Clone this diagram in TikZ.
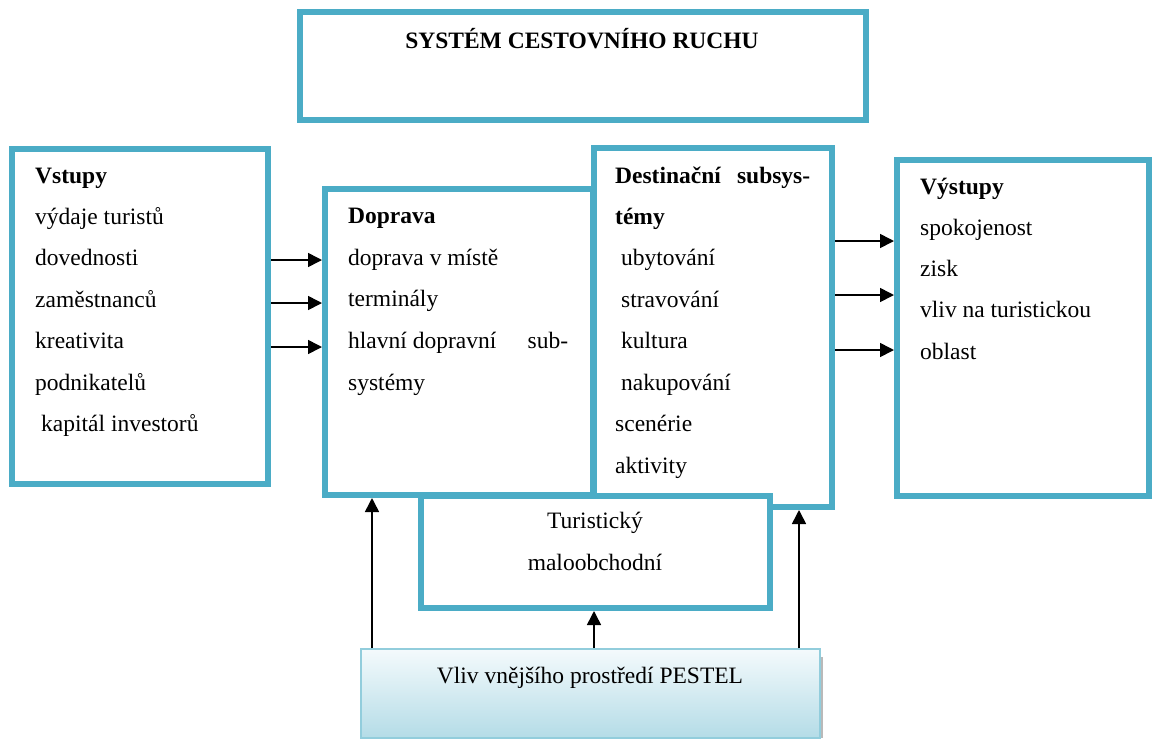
\documentclass[tikz,border=0pt]{standalone}
\usepackage{fontspec}
\setmainfont{Liberation Serif}
\usetikzlibrary{arrows.meta}
\definecolor{boxcol}{RGB}{75,172,198}
\definecolor{pestline}{RGB}{146,205,220}
\definecolor{pesttop}{RGB}{244,250,252}
\definecolor{pestbot}{RGB}{180,220,231}
\tikzset{
  box/.style={draw=boxcol, line width=6pt, fill=white, inner sep=0pt, rectangle},
  lbl/.style={anchor=base west, inner sep=0pt, font=\fontsize{23.5}{28}\selectfont},
  clbl/.style={anchor=base, inner sep=0pt, font=\fontsize{23.5}{28}\selectfont},
  arr/.style={line width=1.6pt, -{Triangle[length=14pt,width=14pt]}}
}
\begin{document}
\begin{tikzpicture}[x=1pt,y=-1pt]
\useasboundingbox (0,0) rectangle (1152,740);
\fill[white] (0,0) rectangle (1152,740);
% boxes
\node[box, minimum width=566pt, minimum height=108pt] (title) at (583,66) {};
\node[box, minimum width=256pt, minimum height=335pt] (vstupy) at (140,316) {};
\node[box, minimum width=252pt, minimum height=336pt] (vystupy) at (1023,328) {};
\node[box, minimum width=268pt, minimum height=306.5pt] (doprava) at (459,341.75) {};
\node[box, minimum width=238pt, minimum height=359pt] (dest) at (713,327.5) {};
\node[box, minimum width=349pt, minimum height=112pt] (turist) at (595.5,552) {};
\fill[gray!55] (820,657) rectangle (823,738);
\node[draw=pestline, line width=2pt, inner sep=0pt, top color=pesttop, bottom color=pestbot,
      minimum width=459pt, minimum height=89pt] (pestel) at (590.5,693.5) {};
% title text
\node[clbl, font=\fontsize{23.5}{28}\selectfont\bfseries] (titletext) at (582,48) {SYSTÉM CESTOVNÍHO RUCHU};
% Vstupy
\node[lbl, font=\fontsize{23.5}{28}\selectfont\bfseries] (vs0) at (35,183) {Vstupy};
\node[lbl] (vs1) at (35,224) {výdaje turistů};
\node[lbl] (vs2) at (35,265) {dovednosti};
\node[lbl] (vs3) at (35,307) {zaměstnanců};
\node[lbl] (vs4) at (35,348) {kreativita};
\node[lbl] (vs5) at (35,390) {podnikatelů};
\node[lbl] (vs6) at (41,431) {kapitál investorů};
% Doprava
\node[lbl, font=\fontsize{23.5}{28}\selectfont\bfseries] (dp0) at (348,223) {Doprava};
\node[lbl] (dp1) at (348,265) {doprava v místě};
\node[lbl] (dp2) at (348,306) {terminály};
\node[lbl] (dp3) at (348,348) {\makebox[220pt][l]{hlavní dopravní\hfill sub-}};
\node[lbl] (dp4) at (348,390) {systémy};
% Destinacni
\node[lbl, font=\fontsize{23.5}{28}\selectfont\bfseries] (ds0) at (615,183) {\makebox[195pt][s]{Destinační subsys-}};
\node[lbl, font=\fontsize{23.5}{28}\selectfont\bfseries] (ds1) at (615,224) {témy};
\node[lbl] (ds2) at (621,265) {ubytování};
\node[lbl] (ds3) at (621,307) {stravování};
\node[lbl] (ds4) at (621,348) {kultura};
\node[lbl] (ds5) at (621,390) {nakupování};
\node[lbl] (ds6) at (615,431) {scenérie};
\node[lbl] (ds7) at (615,473) {aktivity};
% Vystupy
\node[lbl, font=\fontsize{23.5}{28}\selectfont\bfseries] (vy0) at (920,194) {Výstupy};
\node[lbl] (vy1) at (920,235) {spokojenost};
\node[lbl] (vy2) at (920,276) {zisk};
\node[lbl] (vy3) at (920,317) {vliv na turistickou};
\node[lbl] (vy4) at (920,359) {oblast};
% Turisticky
\node[clbl] (tu1) at (595,528) {Turistický};
\node[clbl] (tu2) at (595,570) {maloobchodní};
% PESTEL
\node[clbl] (pe1) at (590,683) {Vliv vnějšího prostředí PESTEL};
% arrow helper coordinates
\coordinate (ay1) at (0,260);
\coordinate (ay2) at (0,303);
\coordinate (ay3) at (0,347);
\coordinate (by1) at (0,241);
\coordinate (by2) at (0,295);
\coordinate (by3) at (0,350);
\coordinate (ax1) at (372,0);
\coordinate (ax2) at (594,0);
\coordinate (ax3) at (799,0);
% arrows
\draw[arr] (vstupy.east |- ay1) -- (doprava.west |- ay1);
\draw[arr] (vstupy.east |- ay2) -- (doprava.west |- ay2);
\draw[arr] (vstupy.east |- ay3) -- (doprava.west |- ay3);
\draw[arr] (dest.east |- by1) -- (vystupy.west |- by1);
\draw[arr] (dest.east |- by2) -- (vystupy.west |- by2);
\draw[arr] (dest.east |- by3) -- (vystupy.west |- by3);
\draw[arr] (pestel.north -| ax1) -- (doprava.south -| ax1);
\draw[arr] (pestel.north -| ax2) -- (turist.south -| ax2);
\draw[arr] (pestel.north -| ax3) -- (dest.south -| ax3);
\end{tikzpicture}
\end{document}
